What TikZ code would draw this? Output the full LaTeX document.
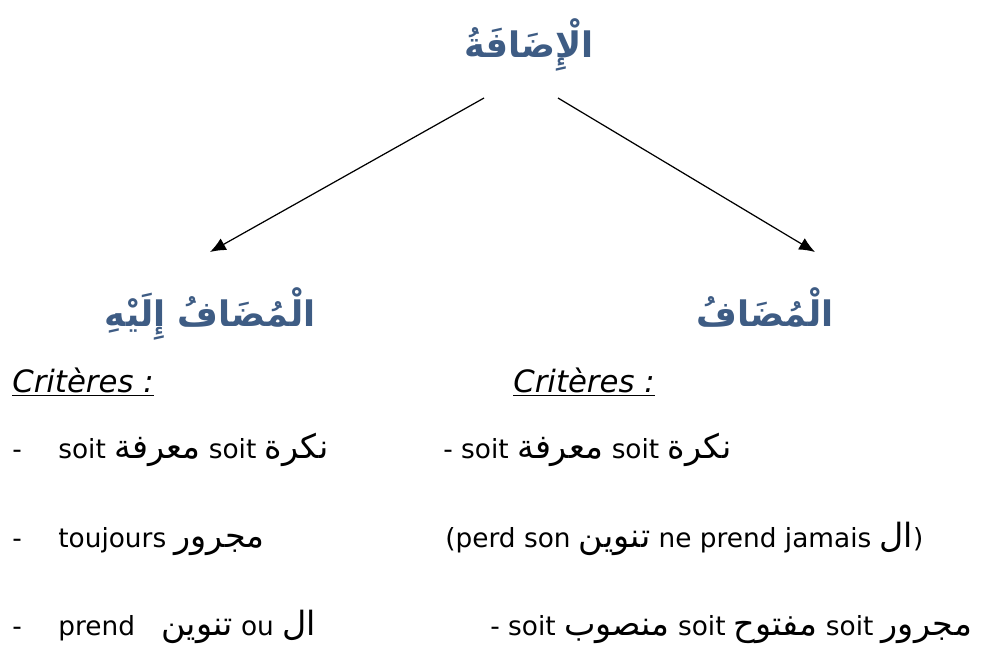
\documentclass[tikz,border=0pt]{standalone}
\usepackage{fontspec}
\usetikzlibrary{arrows.meta}
\setmainfont{DejaVu Sans}
\newfontfamily\arabicfont[Script=Arabic]{DejaVu Sans}
\TeXXeTstate=1
\definecolor{bleutitre}{HTML}{3E5C84}
\newcommand{\ar}[1]{{\arabicfont\fontsize{19}{23}\selectfont\beginR #1\endR}}
\tikzset{
  titre/.style={anchor=base, inner sep=0pt, text=bleutitre,
                font=\arabicfont\bfseries\fontsize{20}{24}\selectfont},
  ligne/.style={anchor=base west, inner sep=0pt,
                font=\fontsize{15}{18}\selectfont},
  crit/.style={ligne, font=\fontsize{17.5}{21}\selectfont},
  fleche/.style={-{Latex[length=9pt,width=7.5pt]}, line width=0.7pt}
}
\begin{document}
\begin{tikzpicture}[x=0.02cm, y=-0.02cm]
                      \useasboundingbox (0,0) rectangle (983,650);

                      % les trois titres
                      \node[titre] (idafa) at (529,57) {\beginR الْإِضَافَةُ\endR};
                      \node[titre] (mudafilayh) at (210,326) {\beginR الْمُضَافُ إِلَيْهِ\endR};
                      \node[titre] (mudaf) at (765,326) {\beginR الْمُضَافُ\endR};

                      % fleches
                      \coordinate (depG) at (484,98);
                      \coordinate (depD) at (558,98);
                      \coordinate (finG) at (210,252);
                      \coordinate (finD) at (815,252);
                      \foreach \i/\j in {depG/finG, depD/finD} {
                              \draw[fleche] (\i) -- (\j);
                          }

                      % criteres
                      \node[crit] (critG) at (12,392) {\underline{\textit{Critères :}}};
                      \node[crit] (critD) at (513,392) {\underline{\textit{Critères :}}};

                      \foreach \i/\y in {1/458, 2/547, 3/635} {
                              \node[ligne] (tiret\i) at (12,\y) {-};
                          }
                      \node[ligne] (g1) at (58,458) {soit \ar{معرفة} soit \ar{نكرة}};
                      \node[ligne] (g2) at (58,547) {toujours \ar{مجرور}};
                      \node[ligne] (g3) at (58,635) {prend\quad\ar{تنوين} ou \ar{ال}};

                      \node[ligne] (d1) at (443,458) {- soit \ar{معرفة} soit \ar{نكرة}};
                      \node[ligne] (d2) at (445,547) {(perd son \ar{تنوين} ne prend jamais \ar{ال})};
                      \node[ligne] (d3) at (490,635) {- soit \ar{منصوب} soit \ar{مفتوح} soit \ar{مجرور}};
                  \end{tikzpicture}
\end{document}
